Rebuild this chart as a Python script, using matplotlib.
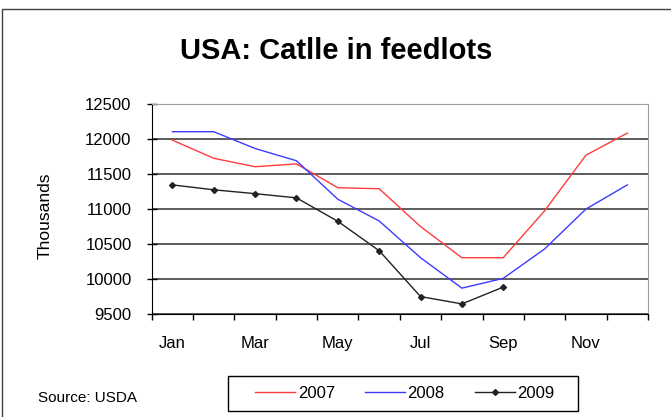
import numpy as np
import matplotlib.pyplot as plt
from matplotlib.patches import Rectangle

plt.rcParams['font.family'] = ['Liberation Sans', 'DejaVu Sans']

months = ['Jan', 'Feb', 'Mar', 'Apr', 'May', 'Jun', 'Jul', 'Aug', 'Sep', 'Oct', 'Nov', 'Dec']
y2007 = [11980, 11720, 11600, 11640, 11300, 11285, 10745, 10300, 10300, 10970, 11765, 12080]
y2008 = [12100, 12100, 11860, 11685, 11135, 10825, 10300, 9865, 10005, 10425, 10995, 11340]
y2009 = [11340, 11270, 11215, 11155, 10820, 10400, 9745, 9640, 9880]
yticks = [9500, 10000, 10500, 11000, 11500, 12000, 12500]

W, H = 671, 417
fig = plt.figure(figsize=(W / 100, H / 100), dpi=100)
fig.patch.set_facecolor('white')

# outer chart frame (right/bottom edges fall outside the picture)
fig.patches.append(Rectangle((2 / W, -0.1), 1.2, (H - 9) / H + 0.1, transform=fig.transFigure,
                             fill=False, edgecolor='#404040', linewidth=1.0))

ax = fig.add_axes([151.7 / W, (H - 313.7) / H, (648 - 151.7) / W, (313.7 - 103.7) / H])
x = np.arange(len(months))
ax.plot(x, y2007, color='#ff3c3c', lw=1.0, label='2007')
ax.plot(x, y2008, color='#3c3cff', lw=1.0, label='2008')
ax.plot(np.arange(len(y2009)), y2009, color='#222222', lw=1.0, marker='D', ms=3, label='2009')

ax.set_xlim(-0.5, 11.5)
ax.set_ylim(9500, 12500)
ax.set_yticks(yticks)
ax.yaxis.grid(True, color='#303030', lw=1.1)
ax.set_axisbelow(True)

ax.set_xticks(np.arange(-0.5, 12, 1))
ax.set_xticklabels([])
ax.tick_params(axis='x', which='major', direction='out', length=4, width=1, color='black')
ax.set_xticks(x[::2], minor=True)
ax.set_xticklabels(months[::2], minor=True)
ax.tick_params(axis='x', which='minor', length=0, pad=16, labelsize=12)
ax.tick_params(axis='y', direction='inout', length=7, width=1, pad=11, labelsize=12)

ax.spines['left'].set_color('black')
ax.spines['bottom'].set_color('black')
ax.spines['top'].set_color('#a0a0a0')
ax.spines['right'].set_color('#a0a0a0')

fig.text(45 / W, 1 - 216 / H, 'Thousands', rotation=90, ha='center', va='center', fontsize=12.5)
fig.text(336 / W, 1 - 51 / H, 'USA: Catlle in feedlots', ha='center', va='center',
         fontsize=21, fontweight='bold')
fig.text(38 / W, 1 - 398 / H, 'Source: USDA', ha='left', va='center', fontsize=11)

# legend box drawn separately so its padding matches the reference
fig.patches.append(Rectangle((228 / W, 1 - 411 / H), 350 / W, 35 / H, transform=fig.transFigure,
                             fill=False, edgecolor='black', linewidth=1.0))
fig.legend(loc='center', bbox_to_anchor=(405 / W, 1 - 393.5 / H), ncol=3, frameon=False,
           fontsize=12, handlelength=2.4, columnspacing=1.8, handletextpad=0.15)

fig.savefig('out.png', dpi=100)
